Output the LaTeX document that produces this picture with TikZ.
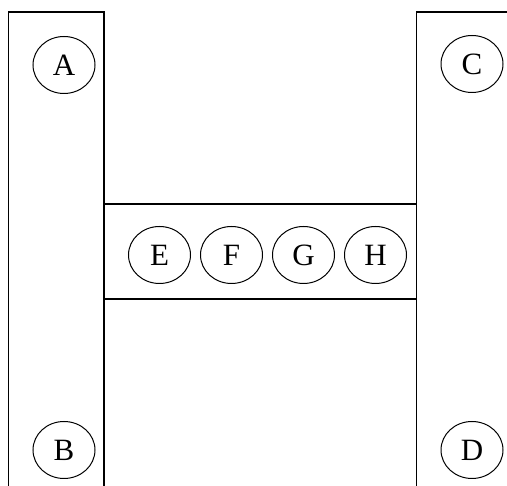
\documentclass[tikz,border=0pt]{standalone}
\usepackage{fontspec}
\setmainfont{Liberation Serif}
\usetikzlibrary{shapes.geometric, positioning}

\begin{document}
\begin{tikzpicture}[x=1pt,y=1pt,node distance=72pt,on grid,
    block/.style={draw,line width=1.6pt},
    letter/.style={draw,ellipse,line width=1pt,minimum width=62pt,minimum height=57pt,inner sep=0pt,font=\fontsize{31}{31}\selectfont}]
       \useasboundingbox (0,0) rectangle (507,486);
       % the three bars
       \draw[block] (8.5,-5) rectangle (104,474);
       \draw[block] (416.5,-5) rectangle (512,474);
       \draw[block] (104,187) rectangle (416.5,282);
       % letters
       \node[letter] (A) at (64,421) {A};
       \node[letter] (B) at (64,36) {B};
       \node[letter] (C) at (472,422) {C};
       \node[letter] (D) at (472,36) {D};
       \node[letter] (E) at (159.5,231) {E};
       \node[letter] (F) [right=of E] {F};
       \node[letter] (G) [right=of F] {G};
       \node[letter] (H) [right=of G] {H};
\end{tikzpicture}
\end{document}
